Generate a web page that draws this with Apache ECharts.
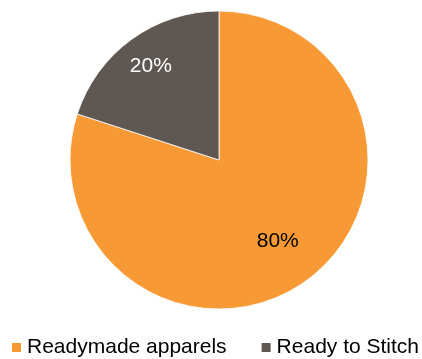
<!DOCTYPE html>
<html>
<head>
<meta charset="utf-8">
<script src="https://cdn.jsdelivr.net/npm/echarts@6/dist/echarts.min.js"></script>
<style>
  html, body { margin: 0; padding: 0; background: #fff; }
  #chart { width: 422px; height: 359px; }
</style>
</head>
<body>
<div id="chart"></div>
<script>
// Share of sales by product type
const categories = ['Readymade apparels', 'Ready to Stitch'];
const shares = [80, 20];
const colors = ['#F79A36', '#5F5752'];
const labelColors = ['#000000', '#FFFFFF'];

const FONT = '"Liberation Sans", Arial, sans-serif';
const center = [219, 160];
const radius = 149;

const pieData = categories.map((name, i) => ({
  name,
  value: shares[i],
  itemStyle: { color: colors[i] }
}));

// Transparent helper ring that carries the label of one slice only,
// so each percentage sits at its own distance from the centre.
function labelRing(idx, outer) {
  return {
    type: 'pie',
    center,
    radius: [0, outer],
    startAngle: 90,
    clockwise: true,
    silent: true,
    legendHoverLink: false,
    itemStyle: { color: 'rgba(0,0,0,0)', borderWidth: 0 },
    emphasis: { disabled: true },
    labelLine: { show: false },
    data: categories.map((name, i) => ({
      name,
      value: shares[i],
      label: {
        show: i === idx,
        position: 'inside',
        formatter: '{d}%',
        color: labelColors[i],
        fontSize: 21,
        fontFamily: FONT
      }
    })),
    z: 3
  };
}

const chart = echarts.init(document.getElementById('chart'), null, { renderer: 'canvas' });
chart.setOption({
  animation: false,
  backgroundColor: '#ffffff',
  color: colors,
  legend: {
    data: categories,
    left: 10,
    top: 337,
    padding: 0,
    itemWidth: 11,
    itemHeight: 11,
    itemGap: 33,
    icon: 'rect',
    selectedMode: false,
    textStyle: { fontSize: 21, color: '#000', fontFamily: FONT, padding: [0, 0, 0, 0] }
  },
  series: [
    {
      type: 'pie',
      center,
      radius: [0, radius],
      startAngle: 90,
      clockwise: true,
      silent: true,
      label: { show: false },
      labelLine: { show: false },
      itemStyle: { borderColor: '#ffffff', borderWidth: 0.8 },
      data: pieData,
      z: 2
    },
    labelRing(0, 194),
    labelRing(1, 226)
  ]
});
</script>
</body>
</html>
